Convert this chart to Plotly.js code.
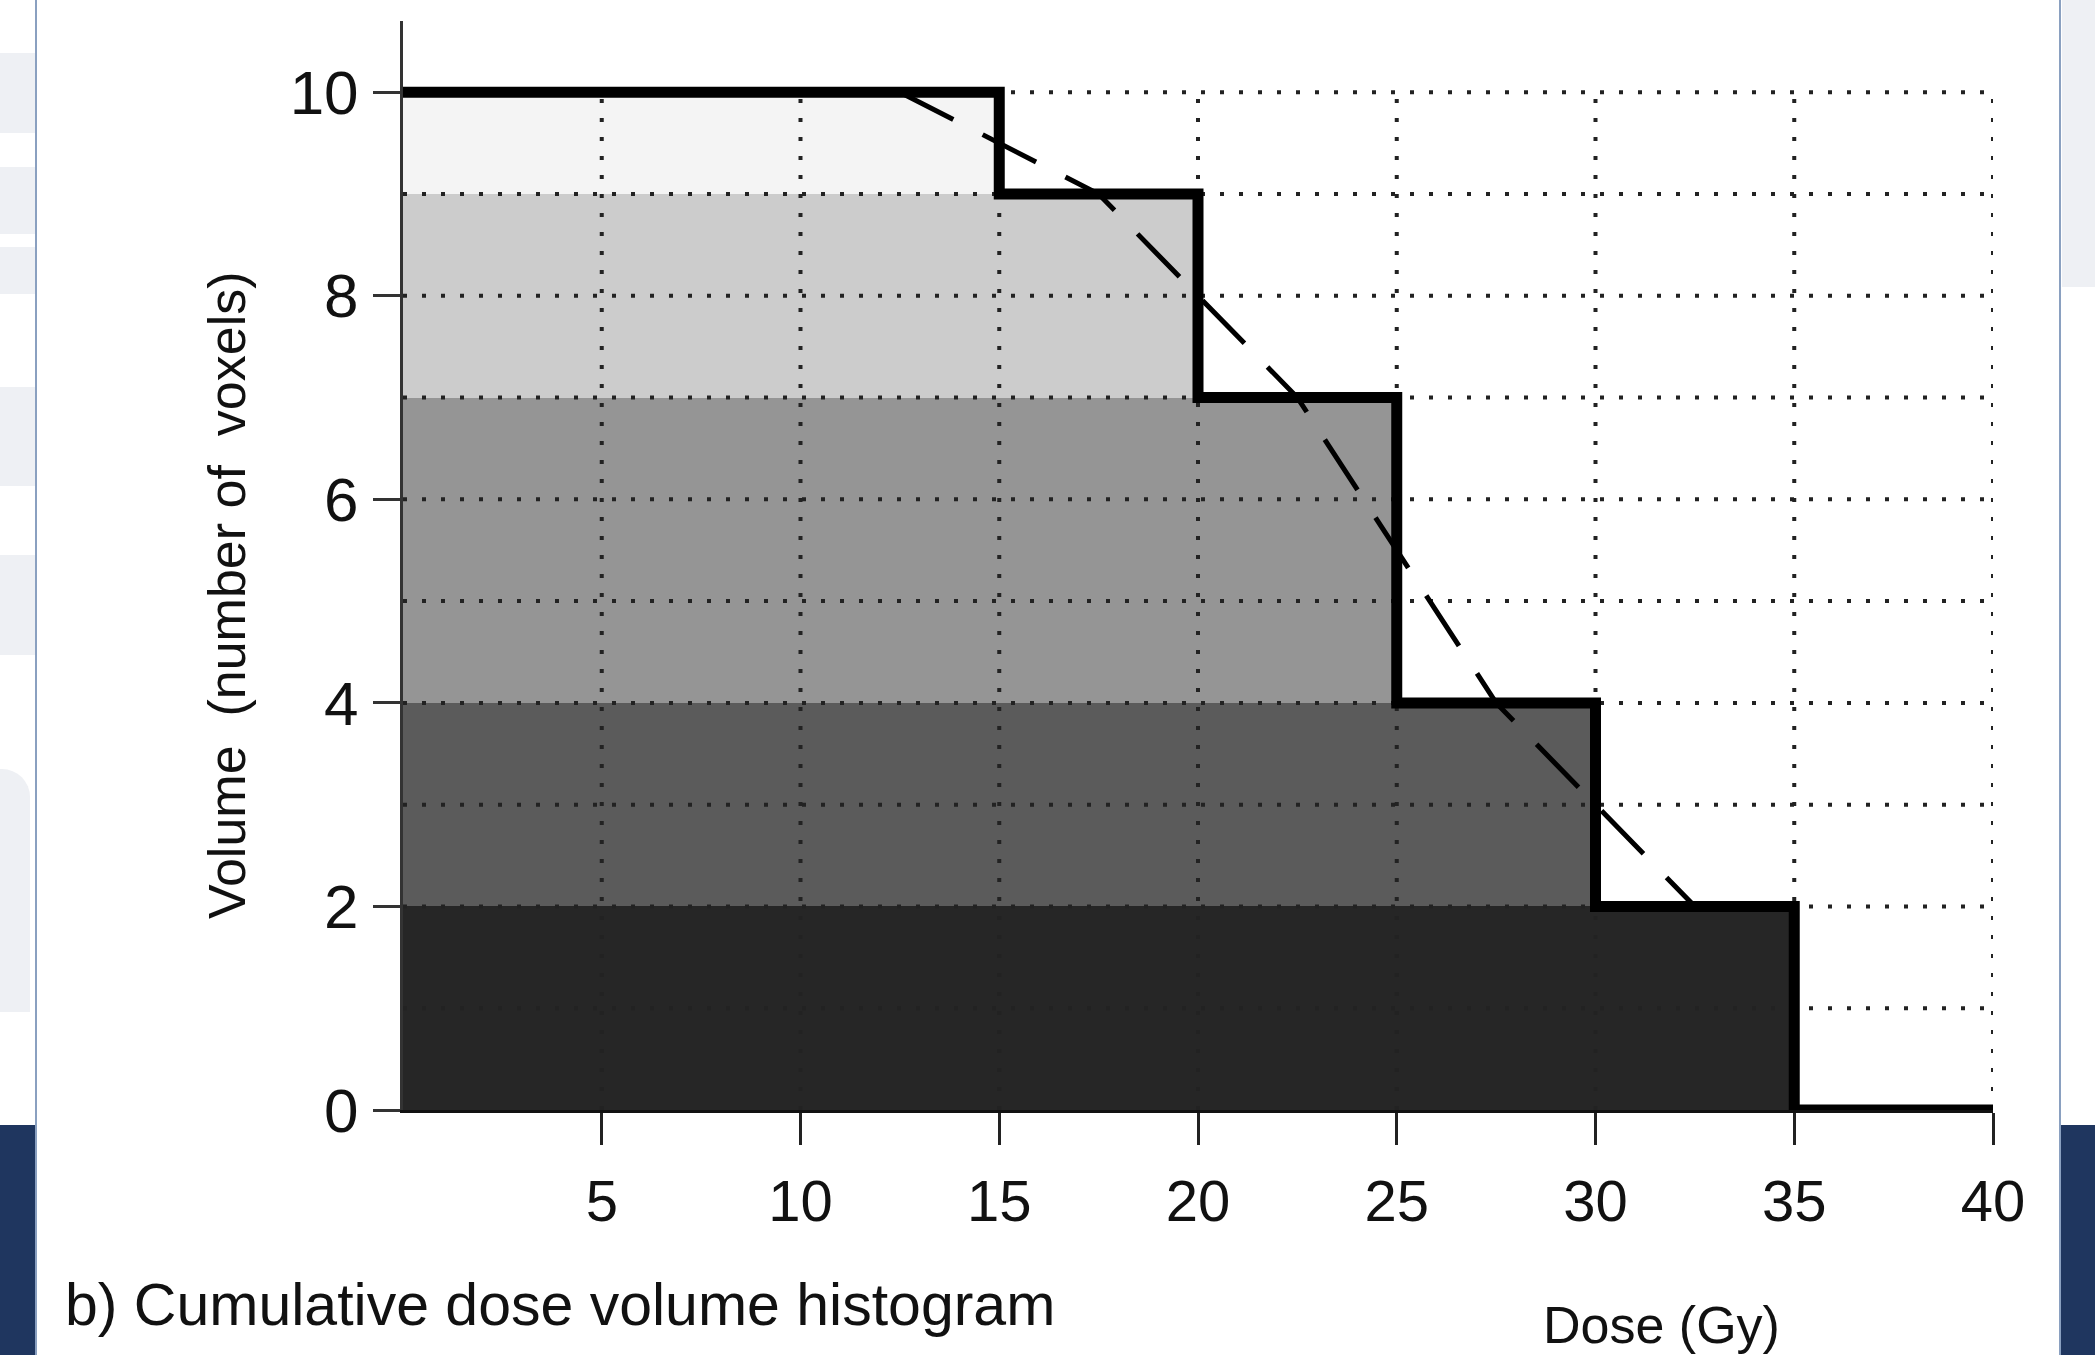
<!DOCTYPE html>
<html>
<head>
<meta charset="utf-8">
<script src="https://cdn.plot.ly/plotly-3.0.1.min.js"></script>
<style>
  html, body { margin:0; padding:0; background:#ffffff; }
  #wrap { position:relative; width:2095px; height:1355px; overflow:hidden; background:#ffffff; }
  .deco { position:absolute; }
  #chart { position:absolute; left:0; top:0; width:2095px; height:1355px; }
</style>
</head>
<body>
<div id="wrap">
  <div class="deco" style="left:0;top:53px;width:35px;height:80px;background:#eef0f4"></div>
  <div class="deco" style="left:0;top:167px;width:35px;height:67px;background:#eef0f4"></div>
  <div class="deco" style="left:0;top:247px;width:35px;height:47px;background:#eef0f4"></div>
  <div class="deco" style="left:0;top:387px;width:35px;height:99px;background:#eef0f4"></div>
  <div class="deco" style="left:0;top:555px;width:35px;height:100px;background:#eef0f4"></div>
  <div class="deco" style="left:0;top:769px;width:30px;height:243px;background:#eef0f4;border-top-right-radius:28px"></div>
  <div class="deco" style="left:2062px;top:0;width:33px;height:287px;background:#eef0f4"></div>
  <div class="deco" style="left:0;top:1125px;width:36px;height:230px;background:#1f365f"></div>
  <div class="deco" style="left:2061px;top:1125px;width:34px;height:230px;background:#1f365f"></div>
  <div class="deco" style="left:35px;top:0;width:2px;height:1355px;background:#8aa0c0"></div>
  <div class="deco" style="left:2059px;top:0;width:2px;height:1355px;background:#8aa0c0"></div>
  <div id="chart"></div>
</div>
<script>
// ---- data ----
var stepDose   = [0, 15, 20, 25, 30, 35, 40];      // Gy
var stepVolume = [10, 9, 7, 4, 2, 0, 0];           // number of voxels
var smoothDose   = [12.5, 17.5, 22.5, 27.5, 32.5];
var smoothVolume = [10, 9, 7, 4, 2];
var bandColors = ['#f4f4f4', '#cccccc', '#959595', '#5b5b5b', '#262626'];
var xTicks = [5, 10, 15, 20, 25, 30, 35, 40];
var xTickText = ['5', '10', '15', '20', '25', '30', '35', '40'];
var yTicks = [0, 2, 4, 6, 8, 10];
var yTickText = ['0', '2', '4', '6', '8', '10'];
var gridX = [5, 10, 15, 20, 25, 30, 35, 40];
var gridY = [1, 2, 3, 4, 5, 6, 7, 8, 9, 10];

// ---- bands (area under step curve split by step levels) ----
var bandY = [], bandW = [], bandX = [];
for (var k = 0; k < 5; k++) {
  bandY.push((stepVolume[k] + stepVolume[k + 1]) / 2);
  bandW.push(stepVolume[k] - stepVolume[k + 1]);
  bandX.push(stepDose[k + 1]);
}
var bands = {
  type: 'bar', orientation: 'h', x: bandX, y: bandY, width: bandW, base: 0,
  marker: { color: bandColors, line: { width: 0 } }, hoverinfo: 'skip', showlegend: false
};

// ---- dotted grid drawn over the bands ----
var xMax = stepDose[stepDose.length - 1];
var yMax = stepVolume[0];
var gx = [], gy = [];
gridY.forEach(function (v) { gx.push(0, xMax, null); gy.push(v, v, null); });
gridX.forEach(function (v) { gx.push(v, v, null); gy.push(0, yMax, null); });
var grid = {
  type: 'scatter', mode: 'lines', x: gx, y: gy, connectgaps: false,
  line: { color: '#222222', width: 4, dash: '4px,15px' }, hoverinfo: 'skip', showlegend: false, cliponaxis: false
};

var smooth = {
  type: 'scatter', mode: 'lines', x: smoothDose, y: smoothVolume,
  line: { color: '#000000', width: 5, dash: '60px,33px' }, hoverinfo: 'skip', showlegend: false, cliponaxis: false
};
var step = {
  type: 'scatter', mode: 'lines', x: stepDose, y: stepVolume,
  line: { color: '#000000', width: 11, shape: 'hv' }, hoverinfo: 'skip', showlegend: false, cliponaxis: false
};

var F = 'Liberation Sans, Arial, sans-serif';

var layout = {
  width: 2095, height: 1355,
  margin: { l: 403, r: 102, t: 21, b: 245 },
  paper_bgcolor: 'rgba(0,0,0,0)', plot_bgcolor: 'rgba(0,0,0,0)',
  bargap: 0,
  xaxis: {
    range: [0, 40], tickmode: 'array', tickvals: xTicks, ticktext: xTickText,
    showgrid: false, zeroline: false, showline: true, linecolor: '#111', linewidth: 3,
    ticks: 'outside', ticklen: 32, tickwidth: 3, tickcolor: '#222',
    tickfont: { family: F, size: 58, color: '#111' }, ticklabelstandoff: 6,
    layer: 'above traces', fixedrange: true
  },
  yaxis: {
    range: [0, 10.7], tickmode: 'array', tickvals: yTicks, ticktext: yTickText,
    showgrid: false, zeroline: false, showline: true, linecolor: '#333', linewidth: 3,
    ticks: 'outside', ticklen: 27, tickwidth: 3, tickcolor: '#333',
    tickfont: { family: F, size: 62, color: '#111' }, ticklabelstandoff: 2,
    layer: 'above traces', fixedrange: true
  },
  annotations: [
    { text: 'Volume  (number of  voxels)', xref: 'paper', yref: 'paper', x: -0.1107, y: 0.473,
      textangle: -90, showarrow: false, xanchor: 'center', yanchor: 'middle',
      font: { family: F, size: 52, color: '#111' } },
    { text: 'Dose (Gy)', xref: 'paper', yref: 'paper', x: 0.7912, y: -0.1974,
      showarrow: false, xanchor: 'center', yanchor: 'middle',
      font: { family: F, size: 52, color: '#111' } },
    { text: 'b) Cumulative dose volume histogram', xref: 'paper', yref: 'paper', x: -0.2138, y: -0.179,
      showarrow: false, xanchor: 'left', yanchor: 'middle',
      font: { family: F, size: 59, color: '#111' } }
  ]
};

Plotly.newPlot('chart', [bands, grid, smooth, step], layout, { staticPlot: true, displayModeBar: false });
</script>
</body>
</html>
